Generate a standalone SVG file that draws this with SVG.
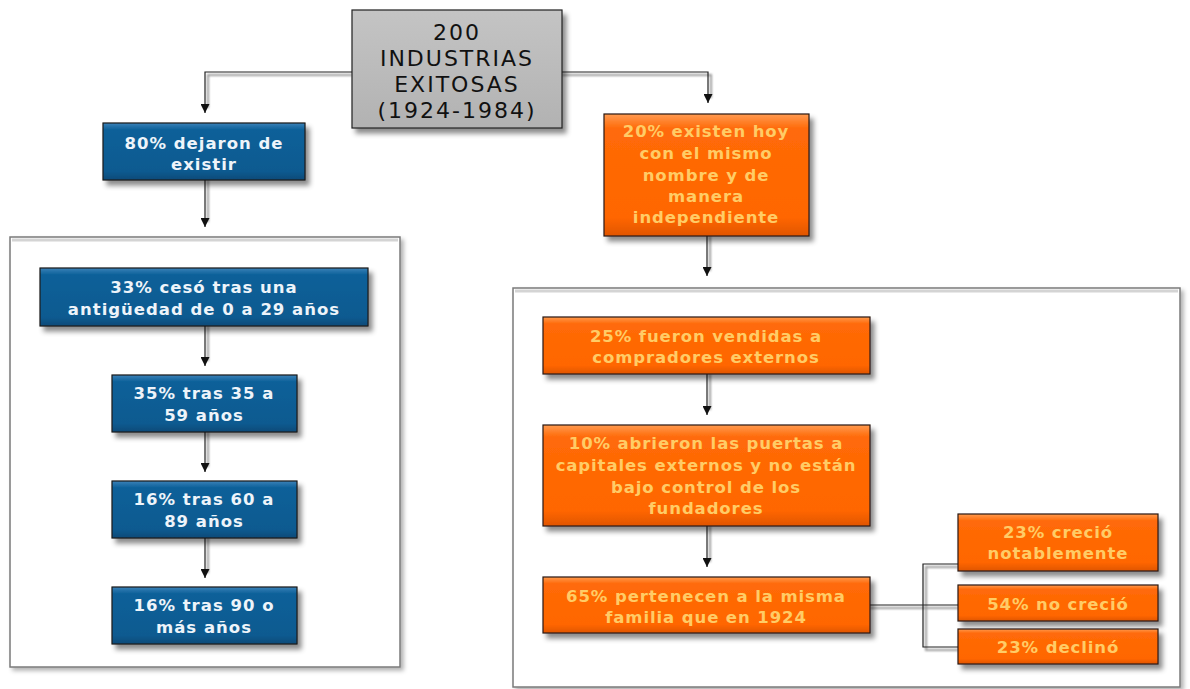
<svg xmlns="http://www.w3.org/2000/svg" width="1190" height="689" viewBox="0 0 1190 689">
<defs>
<filter id="sh" x="-10%" y="-10%" width="130%" height="140%">
<feDropShadow dx="4" dy="5" stdDeviation="2.5" flood-color="#000" flood-opacity="0.45"/>
</filter>
<filter id="shc" x="-5%" y="-5%" width="110%" height="110%">
<feDropShadow dx="3" dy="3" stdDeviation="2" flood-color="#000" flood-opacity="0.3"/>
</filter>
<filter id="blur" filterUnits="userSpaceOnUse" x="0" y="0" width="1190" height="689">
<feGaussianBlur stdDeviation="1.2"/>
</filter>
<linearGradient id="gBlue" x1="0" y1="0" x2="0" y2="1">
<stop offset="0" stop-color="#3a82b8"/>
<stop offset="0.12" stop-color="#0d6099"/>
<stop offset="0.85" stop-color="#0a5a90"/>
<stop offset="1" stop-color="#084a78"/>
</linearGradient>
<linearGradient id="gOrange" x1="0" y1="0" x2="0" y2="1">
<stop offset="0" stop-color="#ff9a50"/>
<stop offset="0.12" stop-color="#ff6a08"/>
<stop offset="0.85" stop-color="#ff6600"/>
<stop offset="1" stop-color="#e05500"/>
</linearGradient>
<linearGradient id="gGray" x1="0" y1="0" x2="0" y2="1">
<stop offset="0" stop-color="#c4c4c4"/>
<stop offset="1" stop-color="#b2b2b2"/>
</linearGradient>
<marker id="arr" viewBox="0 0 10 10" refX="10" refY="5" markerWidth="9" markerHeight="9" markerUnits="userSpaceOnUse" orient="auto">
<path d="M0,0 L10,5 L0,10 Z" fill="#111"/>
</marker>
</defs>
<style>
.blue{fill:url(#gBlue);stroke:#1a1a1a;stroke-width:1.2;filter:url(#sh)}
.orange{fill:url(#gOrange);stroke:#2a1a10;stroke-width:1.2;filter:url(#sh)}
.cont{fill:#fff;stroke:#7a7a7a;stroke-width:1.5;filter:url(#shc)}
.inner{fill:none;stroke:#d4d4d4;stroke-width:3}
.tb{font-family:"DejaVu Sans","Liberation Sans",sans-serif;font-weight:bold;font-size:16.5px;letter-spacing:1px;text-anchor:middle;fill:#eef4fa}
.to{font-family:"DejaVu Sans","Liberation Sans",sans-serif;font-weight:bold;font-size:16.5px;letter-spacing:0.9px;text-anchor:middle;fill:#ffcc66}
.tt{font-family:"DejaVu Sans","Liberation Sans",sans-serif;font-size:22px;letter-spacing:2px;text-anchor:middle;fill:#111}
.ln{fill:none;stroke:#222;stroke-width:1.2}
.lns{fill:none;stroke:#999;stroke-width:2;filter:url(#blur)}
.la{fill:none;stroke:#222;stroke-width:1.2;marker-end:url(#arr)}
</style>

<g id="containers">
<rect x="10" y="237" width="390" height="430" class="cont"/>
<path d="M12,240 H398" class="inner"/>
<rect x="513" y="288" width="667" height="399" class="cont"/>
<path d="M515,291 H1178" class="inner"/>
</g>

<g id="connectors">
<g id="conn-shadows">
<path d="M352,75 H208 V108" class="lns"/>
<path d="M562,75 H711 V98" class="lns"/>
<path d="M208,180 V222" class="lns"/>
<path d="M710,236 V271" class="lns"/>
<path d="M208,326 V361" class="lns"/>
<path d="M208,432 V467" class="lns"/>
<path d="M208,538 V573" class="lns"/>
<path d="M710,374 V410" class="lns"/>
<path d="M710,526 V562" class="lns"/>
<path d="M870,608 H958" class="lns"/>
<path d="M958,567 H926 V650 H958" class="lns"/>
</g>
<path d="M352,72 H205 V113" class="la"/>
<path d="M562,72 H708 V103" class="la"/>
<path d="M205,180 V227" class="la"/>
<path d="M707,236 V276" class="la"/>
<path d="M205,326 V366" class="la"/>
<path d="M205,432 V472" class="la"/>
<path d="M205,538 V578" class="la"/>
<path d="M707,374 V415" class="la"/>
<path d="M707,526 V567" class="la"/>
<path d="M870,605 H958" class="ln"/>
<path d="M958,564 H923 V647 H958" class="ln"/>
</g>

<g id="n-title">
<rect x="352" y="10" width="210" height="118" fill="url(#gGray)" stroke="#222" stroke-width="1.2" filter="url(#sh)"/>
<text class="tt" x="457" y="40">200</text>
<text class="tt" x="457" y="66">INDUSTRIAS</text>
<text class="tt" x="457" y="92">EXITOSAS</text>
<text class="tt" x="457" y="118">(1924-1984)</text>
</g>

<g id="n-80">
<rect x="103" y="123" width="202" height="57" class="blue"/>
<text class="tb" x="204" y="149">80% dejaron de</text>
<text class="tb" x="204" y="170">existir</text>
</g>

<g id="n-33">
<rect x="40" y="268" width="328" height="58" class="blue"/>
<text class="tb" x="204" y="293">33% cesó tras una</text>
<text class="tb" x="204" y="315">antigüedad de 0 a 29 años</text>
</g>

<g id="n-35">
<rect x="112" y="375" width="185" height="57" class="blue"/>
<text class="tb" x="204" y="399">35% tras 35 a</text>
<text class="tb" x="204" y="421">59 años</text>
</g>

<g id="n-16a">
<rect x="112" y="481" width="185" height="57" class="blue"/>
<text class="tb" x="204" y="505">16% tras 60 a</text>
<text class="tb" x="204" y="527">89 años</text>
</g>

<g id="n-16b">
<rect x="112" y="587" width="185" height="57" class="blue"/>
<text class="tb" x="204" y="611">16% tras 90 o</text>
<text class="tb" x="204" y="633">más años</text>
</g>

<g id="n-20">
<rect x="604" y="114" width="205" height="122" class="orange"/>
<text class="to" x="706" y="137">20% existen hoy</text>
<text class="to" x="706" y="159">con el mismo</text>
<text class="to" x="706" y="181">nombre y de</text>
<text class="to" x="706" y="202">manera</text>
<text class="to" x="706" y="223">independiente</text>
</g>

<g id="n-25">
<rect x="543" y="317" width="327" height="57" class="orange"/>
<text class="to" x="706" y="342">25% fueron vendidas a</text>
<text class="to" x="706" y="363">compradores externos</text>
</g>

<g id="n-10">
<rect x="543" y="425" width="327" height="101" class="orange"/>
<text class="to" x="706" y="449">10% abrieron las puertas a</text>
<text class="to" x="706" y="471">capitales externos y no están</text>
<text class="to" x="706" y="493">bajo control de los</text>
<text class="to" x="706" y="514">fundadores</text>
</g>

<g id="n-65">
<rect x="543" y="577" width="327" height="56" class="orange"/>
<text class="to" x="706" y="602">65% pertenecen a la misma</text>
<text class="to" x="706" y="623">familia que en 1924</text>
</g>

<g id="n-23a">
<rect x="958" y="514" width="200" height="57" class="orange"/>
<text class="to" x="1058" y="538">23% creció</text>
<text class="to" x="1058" y="559">notablemente</text>
</g>

<g id="n-54">
<rect x="958" y="585" width="200" height="36" class="orange"/>
<text class="to" x="1058" y="610">54% no creció</text>
</g>

<g id="n-23b">
<rect x="958" y="629" width="200" height="35" class="orange"/>
<text class="to" x="1058" y="653">23% declinó</text>
</g>
</svg>
